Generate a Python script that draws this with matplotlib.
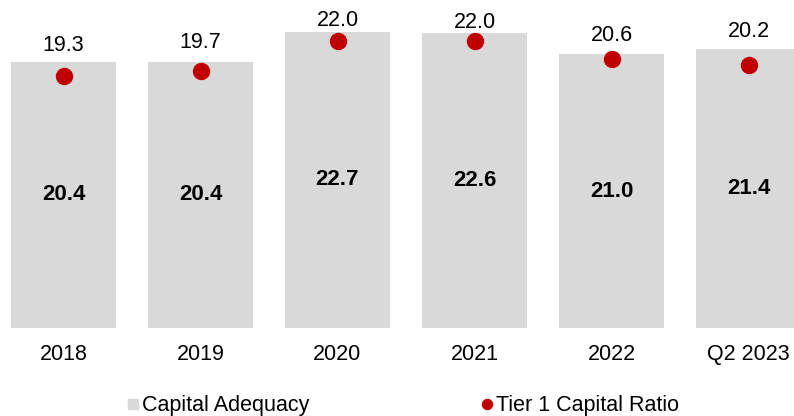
import matplotlib
matplotlib.use("Agg")
import matplotlib.pyplot as plt
from matplotlib.lines import Line2D
from matplotlib.transforms import offset_copy

plt.rcParams['font.family'] = ['Liberation Sans', 'DejaVu Sans']

categories = ["2018", "2019", "2020", "2021", "2022", "Q2 2023"]
capital_adequacy = [20.4, 20.4, 22.7, 22.6, 21.0, 21.4]
tier1_ratio = [19.3, 19.7, 22.0, 22.0, 20.6, 20.2]

BAR_COLOR = "#d9d9d9"
DOT_COLOR = "#c00000"
FS = 15.5

W, H, DPI = 794, 416, 100
fig = plt.figure(figsize=(W / DPI, H / DPI), dpi=DPI)

# axes: bottom of bars at y=328 px, scale ~13.04 px per unit
px_per_unit = 13.04
base_px = 328
ax = fig.add_axes([0, (H - base_px) / H, 1, base_px / H])
ax.set_ylim(0, base_px / px_per_unit)
pitch = 137.0
c0 = 63.5
ax.set_xlim((0 - c0) / pitch, (W - c0) / pitch)

x = list(range(len(categories)))
ax.bar(x, capital_adequacy, width=105 / pitch, color=BAR_COLOR, zorder=1)
ax.plot(x, tier1_ratio, linestyle="none", marker="o", markersize=11.5,
        color=DOT_COLOR, zorder=3)

for xi, v in zip(x, capital_adequacy):
    ax.text(xi, v / 2, f"{v:.1f}", ha="center", va="center",
            fontsize=FS + 0.5, fontweight="bold", color="black", zorder=4)

# label offsets above bar tops (pixels)
label_offsets_px = [16, 19, 11, 11, 18.5, 17]
for xi, v, b, off in zip(x, tier1_ratio, capital_adequacy, label_offsets_px):
    tr = offset_copy(ax.transData, fig=fig, x=0, y=off * 72 / DPI, units="points")
    ax.text(xi, max(b, v), f"{v:.1f}", ha="center", va="center",
            fontsize=FS, color="black", transform=tr, zorder=4)

ax.set_xticks(x)
ax.set_xticklabels(categories, fontsize=FS)
ax.tick_params(axis="x", length=0, pad=11.5)
ax.set_yticks([])
for s in ax.spines.values():
    s.set_visible(False)

handles = [
    Line2D([], [], linestyle="none", marker="s", markersize=7.2,
           color=BAR_COLOR, label="Capital Adequacy"),
    Line2D([], [], linestyle="none", marker="o", markersize=7.2,
           color=DOT_COLOR, label="Tier 1 Capital Ratio"),
]
fig.legend(handles=handles, loc="center", bbox_to_anchor=(403 / W, 1 - 406 / H),
           ncol=2, frameon=False, fontsize=FS, handlelength=0.55,
           handletextpad=0.12, columnspacing=8.0, borderpad=0)

fig.savefig("out.png", dpi=DPI)
